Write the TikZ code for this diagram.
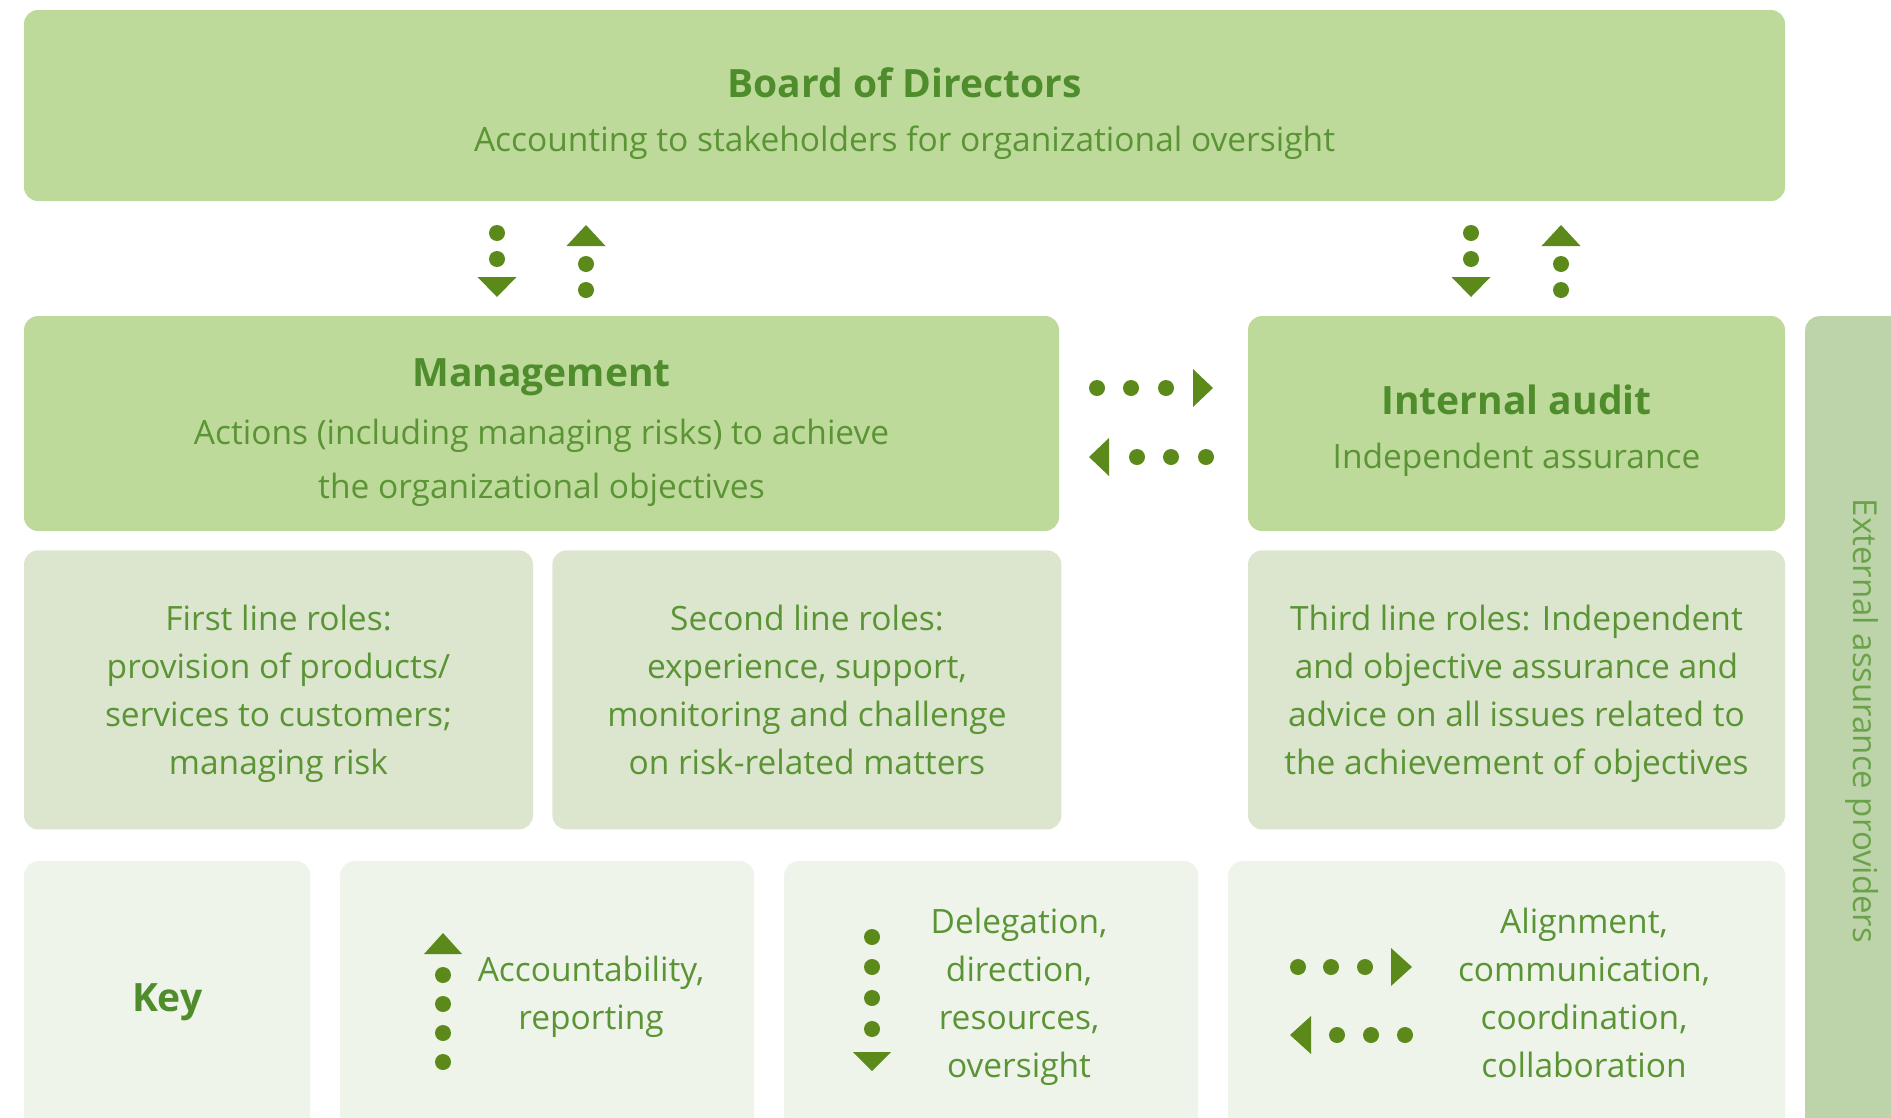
\documentclass[tikz,border=0pt]{standalone}
\usepackage{fontspec}
\setmainfont{Open Sans}
\usetikzlibrary{positioning}

\definecolor{boardgreen}{HTML}{BEDA9B}
\definecolor{rolegreen}{HTML}{DCE6CF}
\definecolor{keygreen}{HTML}{EEF4EA}
\definecolor{extgreen}{HTML}{BDD4AA}
\definecolor{titlegreen}{HTML}{4E8C2C}
\definecolor{textgreen}{HTML}{5A9434}
\definecolor{arrowgreen}{HTML}{5B8A1A}
\definecolor{exttext}{HTML}{6AA24A}

\begin{document}
\begin{tikzpicture}[
    x=1pt, y=-1pt,
    box/.style={
        rounded corners=14pt,
        inner sep=0pt
    },
    mainbox/.style={box, fill=boardgreen},
    rolebox/.style={box, fill=rolegreen, minimum width=509pt, minimum height=279pt},
    keybox/.style={box, fill=keygreen, minimum height=268pt},
    boxtext/.style={
        align=center,
        text=textgreen,
        font=\fontsize{33.5}{48}\selectfont,
        text depth=0pt,
        inner sep=0pt
    },
    wide/.style={font=\fontsize{33.5}{54}\selectfont},
    titlefont/.style={font=\fontsize{39}{48}\selectfont\bfseries},
    dot/.style={fill=arrowgreen},
    tip/.style={fill=arrowgreen}
]
\clip (0,0) rectangle (1891,1117);
\useasboundingbox (0,0) rectangle (1891,1117);

% top row
\node[mainbox, minimum width=1761pt, minimum height=191pt] (board) at (904.5,105.5) {};
\node[boxtext, yshift=-4pt] (boardtext) at (board.center)
{{\fontsize{39}{48}\selectfont\bfseries\color{titlegreen}Board of Directors}\\[6pt]
Accounting to stakeholders for organizational oversight};

% management and internal audit
\node[mainbox, minimum width=1035pt, minimum height=215pt] (mgmt) at (541.5,423.5) {};
\node[boxtext, wide, yshift=-5pt] (mgmttext) at (mgmt.center)
{{\fontsize{39}{48}\selectfont\bfseries\color{titlegreen}Management}\\[4pt]
Actions (including managing risks) to achieve\\the organizational objectives};

\node[mainbox, minimum width=537pt, minimum height=215pt] (audit) at (1516.5,423.5) {};
\node[boxtext, yshift=-3pt] (audittext) at (audit.center)
{{\fontsize{39}{48}\selectfont\bfseries\color{titlegreen}Internal audit}\\[6pt]
Independent assurance};

% roles
\node[rolebox, below right=19pt and 0pt of mgmt.south west] (first) {};
\node[rolebox, right=19pt of first] (second) {};
\node[rolebox, minimum width=537pt, below=19pt of audit] (third) {};
\node[boxtext, yshift=0pt] (firsttext) at (first.center)
{First line roles:\\provision of products/\\services to customers;\\managing risk};
\node[boxtext, yshift=0pt] (secondtext) at (second.center)
{Second line roles:\\experience, support,\\monitoring and challenge\\on risk-related matters};
\node[boxtext, yshift=0pt] (thirdtext) at (third.center)
{Third line roles: Independent\\and objective assurance and\\advice on all issues related to\\the achievement of objectives};

% external
\node[box, fill=extgreen, minimum width=110pt, minimum height=830pt, anchor=north west] (ext) at (1805,316) {};
\node[boxtext, text=exttext, font=\fontsize{33}{48}\selectfont, rotate=-90] (exttext) at (1866,721)
{External assurance providers};

% key
\node[keybox, minimum width=286pt, anchor=north west] (key) at (24,861) {};
\node[boxtext, titlefont, text=titlegreen, yshift=-2pt] (keytitle) at (key.center) {Key};
\node[keybox, minimum width=414pt, anchor=north west] (keyup) at (340,861) {};
\node[boxtext] (keyuptext) at (591,993) {Accountability,\\reporting};
\node[keybox, minimum width=414pt, anchor=north west] (keydown) at (784,861) {};
\node[boxtext] (keydowntext) at (1019,993) {Delegation,\\direction,\\resources,\\oversight};
\node[keybox, minimum width=557pt, anchor=north west] (keyside) at (1228,861) {};
\node[boxtext] (keysidetext) at (1584,993) {Alignment,\\communication,\\coordination,\\collaboration};

% board <-> management
\foreach \y in {233,259} \fill[dot] (497,\y) circle (8pt);
\fill[tip] (477.5,277) -- (516.5,277) -- (497,297) -- cycle;
\foreach \y in {264,290} \fill[dot] (586,\y) circle (8pt);
\fill[tip] (566.5,246) -- (605.5,246) -- (586,225) -- cycle;

% board <-> internal audit
\foreach \y in {233,259} \fill[dot] (1471,\y) circle (8pt);
\fill[tip] (1451.5,277) -- (1490.5,277) -- (1471,297) -- cycle;
\foreach \y in {264,290} \fill[dot] (1561,\y) circle (8pt);
\fill[tip] (1541.5,246) -- (1580.5,246) -- (1561,225) -- cycle;

% management <-> internal audit
\foreach \x in {1097,1131,1166} \fill[dot] (\x,388) circle (8pt);
\fill[tip] (1193,369) -- (1193,407) -- (1213,388) -- cycle;
\foreach \x in {1137,1171,1206} \fill[dot] (\x,457) circle (8pt);
\fill[tip] (1109,438) -- (1109,476) -- (1089,457) -- cycle;

% key arrows
\foreach \y in {975,1004,1033,1062} \fill[dot] (443,\y) circle (8pt);
\fill[tip] (424,954) -- (462,954) -- (443,933) -- cycle;
\foreach \y in {937,967,998,1029} \fill[dot] (872,\y) circle (8pt);
\fill[tip] (853,1052) -- (891,1052) -- (872,1071) -- cycle;
\foreach \x in {1298,1331,1365} \fill[dot] (\x,967) circle (8pt);
\fill[tip] (1391,948) -- (1391,986) -- (1412,967) -- cycle;
\foreach \x in {1337,1371,1405} \fill[dot] (\x,1035) circle (8pt);
\fill[tip] (1311,1016) -- (1311,1054) -- (1290,1035) -- cycle;

\end{tikzpicture}
\end{document}
